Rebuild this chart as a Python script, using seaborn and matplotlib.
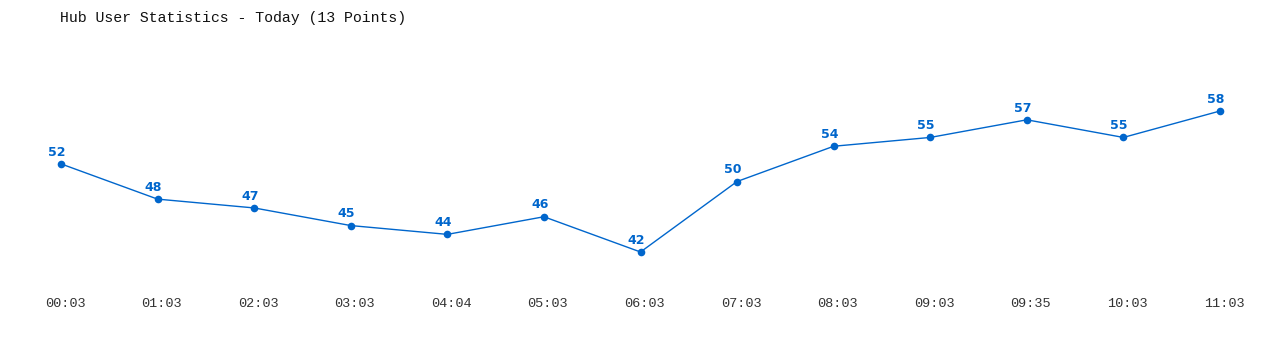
import matplotlib
matplotlib.use("Agg")
import matplotlib.pyplot as plt
import matplotlib.transforms as mtransforms
import seaborn as sns
import pandas as pd

times = ["00:03", "01:03", "02:03", "03:03", "04:04", "05:03", "06:03",
         "07:03", "08:03", "09:03", "09:35", "10:03", "11:03"]
users = [52, 48, 47, 45, 44, 46, 42, 50, 54, 55, 57, 55, 58]

sns.set_theme(style="white")
plt.rcParams['font.family'] = ['Liberation Mono', 'DejaVu Sans Mono']

color = "#0066cc"
df = pd.DataFrame({"idx": range(len(times)), "users": users})

fig = plt.figure(figsize=(12.8, 3.5), dpi=100)
ax = fig.add_axes([61/1280, 1-252/350, (1220-61)/1280, (252-111)/350])
sns.lineplot(data=df, x="idx", y="users", ax=ax, color=color, linewidth=1,
             marker="o", markersize=5.5, markeredgewidth=0, clip_on=False)
for i, v in enumerate(users):
    ax.annotate(str(v), (i, v), xytext=(-3, 3.8), textcoords="offset points",
                ha="center", va="bottom", color=color, fontsize=9,
                fontweight="bold", family="DejaVu Sans")
ax.set_xlim(0, len(times) - 1)
ax.set_ylim(min(users), max(users))
ax.set_xticks(range(len(times)))
ax.set_xticklabels(times, fontsize=9.7, color="#333333")
ax.set_yticks([])
ax.tick_params(axis="x", length=0, pad=33)
offset = mtransforms.ScaledTranslation(4/100, 0, fig.dpi_scale_trans)
for lab in ax.get_xticklabels():
    lab.set_transform(lab.get_transform() + offset)
ax.set_xlabel("")
ax.set_ylabel("")
for s in ax.spines.values():
    s.set_visible(False)
fig.text(60/1280, 1-18/350, "Hub User Statistics - Today (13 Points)",
         ha="left", va="center", fontsize=10.75, color="#111111")
fig.savefig("out.png", dpi=100)
